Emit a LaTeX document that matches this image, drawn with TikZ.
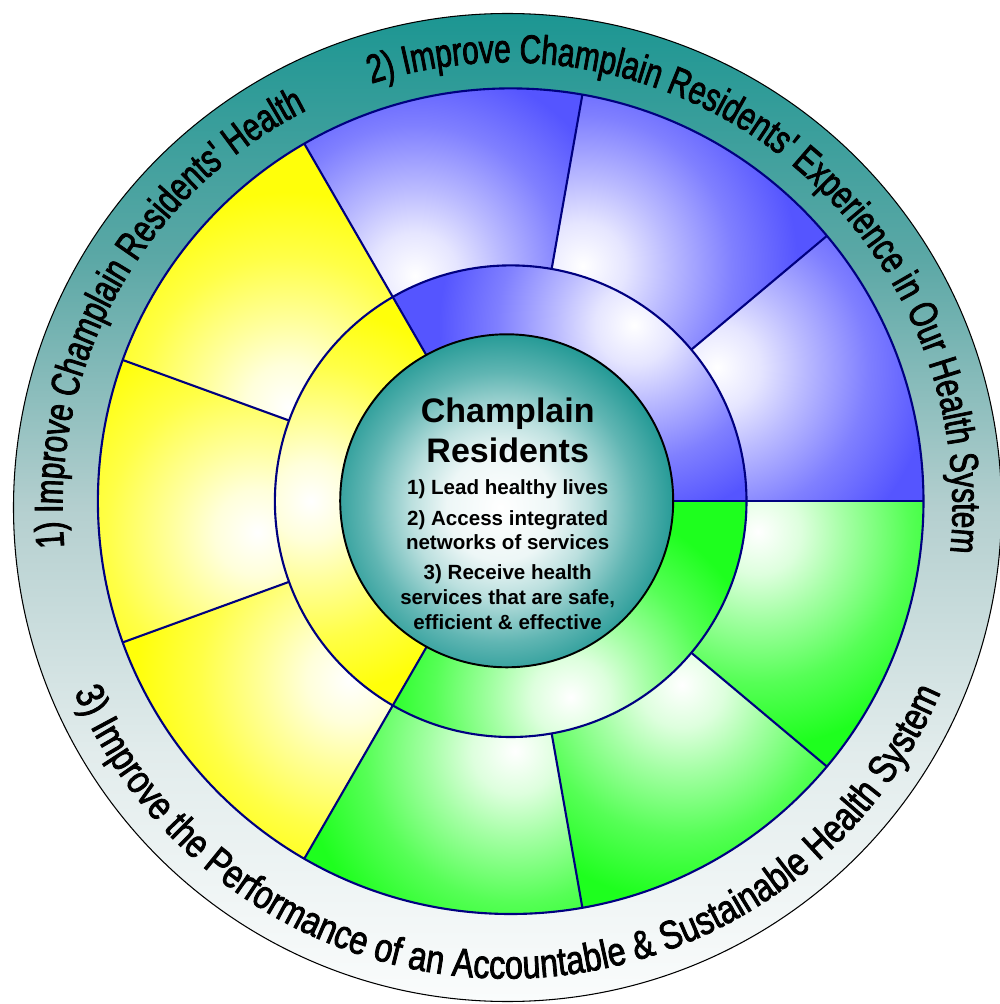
\documentclass[tikz,border=0pt]{standalone}
\usepackage{fontspec}
\usetikzlibrary{decorations.text}

\newfontfamily\hubfont{Liberation Sans}
% narrow faces for the lettering that runs round the rim
\font\rimfontA="Liberation Sans:extend=0.74;embolden=2" at 22.76pt
\font\rimfontB="Liberation Sans:extend=0.81;embolden=2" at 22.76pt

\definecolor{tealc}{RGB}{28,150,146}
\definecolor{navyc}{RGB}{0,0,128}
\definecolor{blueb}{RGB}{85,85,255}
\definecolor{yellowb}{RGB}{255,255,10}
\definecolor{greenb}{RGB}{30,255,30}
\definecolor{rimA}{RGB}{250,252,252}
\definecolor{rimB}{RGB}{226,236,236}
\definecolor{rimC}{RGB}{180,207,207}
\definecolor{rimD}{RGB}{92,168,166}

% the path's bounding box maps onto the middle 50bp of a shading
\pgfdeclareverticalshading{rimshade}{100bp}{color(0bp)=(rimA); color(25bp)=(rimA); color(37.5bp)=(rimB);
  color(50bp)=(rimC); color(62.5bp)=(rimD); color(75bp)=(tealc); color(100bp)=(tealc)}
\pgfdeclareradialshading{glowblueb}{\pgfpoint{0bp}{0bp}}{color(0bp)=(white); color(5bp)=(blueb!15!white);
  color(10bp)=(blueb!40!white); color(17.5bp)=(blueb!75!white); color(25bp)=(blueb); color(50bp)=(blueb)}
\pgfdeclareradialshading{glowyellowb}{\pgfpoint{0bp}{0bp}}{color(0bp)=(white); color(5bp)=(yellowb!15!white);
  color(10bp)=(yellowb!40!white); color(17.5bp)=(yellowb!75!white); color(25bp)=(yellowb); color(50bp)=(yellowb)}
\pgfdeclareradialshading{glowgreenb}{\pgfpoint{0bp}{0bp}}{color(0bp)=(white); color(5bp)=(greenb!15!white);
  color(10bp)=(greenb!40!white); color(17.5bp)=(greenb!75!white); color(25bp)=(greenb); color(50bp)=(greenb)}
\pgfdeclareradialshading{glowtealc}{\pgfpoint{0bp}{0bp}}{color(0bp)=(white); color(7.5bp)=(tealc!8!white);
  color(12.5bp)=(tealc!30!white); color(18.75bp)=(tealc!70!white); color(25bp)=(tealc); color(50bp)=(tealc)}

\begin{document}
\begin{tikzpicture}[x=0.02cm, y=0.02cm,
  divider/.style={navyc, line width=1.2pt},
  hubtitle/.style={anchor=base, inner sep=0pt, font=\hubfont\bfseries\fontsize{19.35pt}{22pt}\selectfont},
  hubitem/.style={anchor=base, inner sep=0pt, font=\hubfont\bfseries\fontsize{11.7pt}{14pt}\selectfont},
  rimtext/.style={decorate, decoration={text along path, text align=center, text={#1}}}]
\def\Ro{412.8}
\def\Rm{235.8}

% canvas
\useasboundingbox (-510.7,-502.8) rectangle (489.3,501.2);
\fill[white] (-510.7,-502.8) rectangle (489.3,501.2);
\clip (-510.7,-502.8) rectangle (489.3,501.2);

% outer rim with its top-to-bottom fade
\coordinate (rimc) at (-3.2,-6.3);
\shade[shading=rimshade] (rimc) circle[radius=494];
\draw[black, line width=0.6pt] (rimc) circle[radius=494];

% outer ring: nine sub-sectors, each with a soft highlight
\foreach \a/\b/\col/\ha/\hr in {0/40/blueb/33/246, 40/80/blueb/73/246, 80/120/blueb/113/245,
    120/160/yellowb/157/241, 160/200/yellowb/187/255, 200/240/yellowb/228/240,
    240/280/greenb/271/250, 280/320/greenb/313/251, 320/360/greenb/353/249}{
  \fill[\col] (\a:\Rm) arc[start angle=\a, end angle=\b, radius=\Rm] -- (\b:\Ro)
      arc[start angle=\b, end angle=\a, radius=\Ro] -- cycle;
  \begin{scope}
    \clip (\a:\Rm) arc[start angle=\a, end angle=\b, radius=\Rm] -- (\b:\Ro)
      arc[start angle=\b, end angle=\a, radius=\Ro] -- cycle;
    \shade[shading=glow\col] (\ha:\hr) circle[radius=215];
  \end{scope}
}

% middle ring: three sectors
\foreach \a/\b/\col/\ha/\hr in {0/120/blueb/55/215, 120/240/yellowb/180/200, 240/360/greenb/287/205}{
  \fill[\col] (\a:140) arc[start angle=\a, end angle=\b, radius=140] -- (\b:\Rm)
      arc[start angle=\b, end angle=\a, radius=\Rm] -- cycle;
  \begin{scope}
    \clip (\a:140) arc[start angle=\a, end angle=\b, radius=140] -- (\b:\Rm)
      arc[start angle=\b, end angle=\a, radius=\Rm] -- cycle;
    \shade[shading=glow\col] (\ha:\hr) circle[radius=195];
  \end{scope}
}

% dividers and ring edges
\foreach \a in {40,80,160,200,280,320}
  \draw[divider] (\a:\Rm) -- (\a:\Ro);
\foreach \a in {0,120,240}
  \draw[divider] (\a:140) -- (\a:\Ro);
\draw[divider] (0,0) circle[radius=\Rm];
\draw[divider] (0,0) circle[radius=\Ro];

% hub
\coordinate (hub) at (-4,0.4);
\fill[tealc] (hub) circle[radius=166.5];
\begin{scope}
  \clip (hub) circle[radius=166.5];
  \shade[shading=glowtealc] (-10,-6) circle[radius=180];
\end{scope}
\draw[black, line width=1.1pt] (hub) circle[radius=166.5];

\node[hubtitle] (h1) at (-3,78.2) {Champlain};
\node[hubtitle] (h2) at (-3,38.2) {Residents};
\node[hubitem] (i1) at (-3,6.2) {1) Lead healthy lives};
\node[hubitem] (i2) at (-3,-23.8) {2) Access integrated};
\node[hubitem] (i3) at (-3,-47.8) {networks of services};
\node[hubitem] (i4) at (-3,-78.8) {3) Receive health};
\node[hubitem] (i5) at (-3,-102.8) {services that are safe,};
\node[hubitem] (i6) at (-3,-127.8) {efficient \& effective};

% lettering round the rim
\begin{scope}[shift={(rimc)}]
  \path[rimtext={|\rimfontA|1) Improve Champlain Residents' Health}]
    (191:445) arc[start angle=191, end angle=111, radius=445];
  \path[rimtext={|\rimfontA|2) Improve Champlain Residents' Experience in Our Health System}]
    (121:445) arc[start angle=121, end angle=-19, radius=445];
  \path[rimtext={|\rimfontB|3) Improve the Performance of an Accountable {\&} Sustainable Health System}]
    (195:471) arc[start angle=195, end angle=345, radius=471];
\end{scope}
\end{tikzpicture}
\end{document}
